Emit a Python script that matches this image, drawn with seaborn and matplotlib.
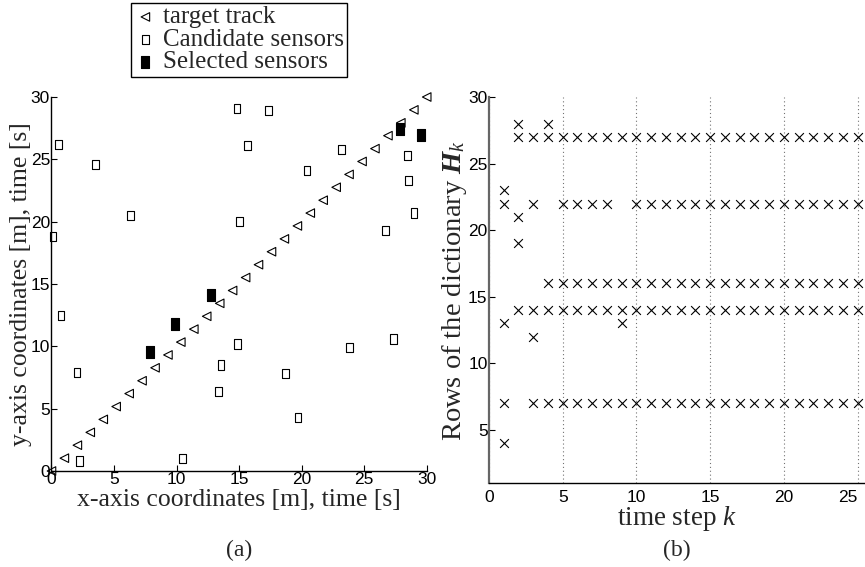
import numpy as np
import pandas as pd
import matplotlib
matplotlib.use("Agg")
import matplotlib.pyplot as plt
import seaborn as sns
from matplotlib import font_manager

# ---------------- data ----------------
# (a) target track: 30 equally spaced points along the diagonal
track_x = [0.0, 1.03, 2.07, 3.10, 4.14, 5.17, 6.21, 7.24, 8.28, 9.31,
           10.34, 11.38, 12.41, 13.45, 14.48, 15.52, 16.55, 17.59, 18.62, 19.66,
           20.69, 21.72, 22.76, 23.79, 24.83, 25.86, 26.90, 27.93, 28.97, 30.0]
track_y = list(track_x)

cand_x = [0.58, 3.51, 6.31, 0.13, 14.83, 17.36, 15.68, 15.04, 20.42, 23.16,
          28.49, 28.54, 28.99, 26.73, 0.77, 2.05, 2.26, 10.49, 14.88, 13.55,
          13.34, 18.69, 19.70, 23.80, 27.34]
cand_y = [26.2, 24.6, 20.5, 18.8, 29.1, 28.9, 26.1, 20.0, 24.1, 25.8,
          25.3, 23.3, 20.7, 19.3, 12.5, 7.9, 0.8, 1.0, 10.2, 8.5,
          6.4, 7.8, 4.3, 9.9, 10.6]

sel_x = [27.88, 29.55, 7.85, 9.88, 12.75]
sel_y = [27.45, 26.95, 9.55, 11.80, 14.15]

# (b) selected rows of the dictionary H_k per time step k
steps = list(range(1, 26))
rows_per_step = [
    [4, 7, 13, 22, 23],
    [14, 19, 21, 27, 28],
    [7, 12, 14, 22, 27],
    [7, 14, 16, 27, 28],
    [7, 14, 16, 22, 27],
    [7, 14, 16, 22, 27],
    [7, 14, 16, 22, 27],
    [7, 14, 16, 22, 27],
    [7, 13, 14, 16, 27],
] + [[7, 14, 16, 22, 27] for _ in range(16)]

left_ticks = [0, 5, 10, 15, 20, 25, 30]
right_xticks = [0, 5, 10, 15, 20, 25]
right_yticks = [5, 10, 15, 20, 25, 30]

# ---------------- style ----------------
sns.set_theme(style="white")
installed = {f.name for f in font_manager.fontManager.ttflist}
serif = "Liberation Serif" if "Liberation Serif" in installed else "DejaVu Serif"
tickfont = ["Liberation Sans Narrow", "Liberation Sans", "DejaVu Sans"]
tickfont = [f for f in tickfont if f in installed] or ["DejaVu Sans"]

plt.rcParams["font.family"] = [serif, "DejaVu Serif"]
plt.rcParams["mathtext.fontset"] = "custom"
plt.rcParams["mathtext.rm"] = serif
plt.rcParams["mathtext.it"] = serif + ":italic"
plt.rcParams["mathtext.bf"] = serif + ":italic:bold"

LABEL_FS = 18.5
LEG_FS = 18
TICK_FS = 12.5

fig = plt.figure(figsize=(8.65, 5.67), dpi=100)
axL = fig.add_axes([0.0595, 0.1693, 0.4338, 0.6596])
axR = fig.add_axes([0.5653, 0.1481, 0.4347, 0.6808])

# rectangle markers (slightly taller than wide)
rect = [(-0.36, -0.5), (0.36, -0.5), (0.36, 0.5), (-0.36, 0.5), (-0.36, -0.5)]

# ---------------- (a) ----------------
df_track = pd.DataFrame({"x": track_x, "y": track_y})
df_cand = pd.DataFrame({"x": cand_x, "y": cand_y})
df_sel = pd.DataFrame({"x": sel_x, "y": sel_y})

sns.scatterplot(data=df_track, x="x", y="y", ax=axL, marker="<", s=38,
                facecolor="none", edgecolor="black", linewidth=0.8,
                label="target track", clip_on=False, zorder=3)
sns.scatterplot(data=df_cand, x="x", y="y", ax=axL, marker=rect, s=45,
                facecolor="none", edgecolor="black", linewidth=0.8,
                label="Candidate sensors", clip_on=False, zorder=3)
sns.scatterplot(data=df_sel, x="x", y="y", ax=axL, marker=rect, s=80,
                facecolor="black", edgecolor="black", linewidth=0.8,
                label="Selected sensors", clip_on=False, zorder=4)

axL.set_xlim(0, 30)
axL.set_ylim(0, 30)
axL.set_xticks(left_ticks)
axL.set_yticks(left_ticks)
axL.set_xlabel("x-axis coordinates [m], time [s]", fontsize=LABEL_FS, labelpad=1)
axL.set_ylabel("y-axis coordinates [m], time [s]", fontsize=LABEL_FS, labelpad=-1)
for s in ["top", "right"]:
    axL.spines[s].set_visible(False)
for s in ["left", "bottom"]:
    axL.spines[s].set_color("black")
    axL.spines[s].set_linewidth(1.0)
axL.tick_params(direction="in", length=4, width=0.8, colors="black",
                labelsize=TICK_FS, pad=1, left=True, bottom=True)
for lab in axL.get_xticklabels() + axL.get_yticklabels():
    lab.set_family(tickfont)

leg = axL.legend(loc="upper center", bbox_to_anchor=(239 / 865, 1 - 3 / 567),
                 bbox_transform=fig.transFigure, frameon=True, fancybox=False,
                 framealpha=1, edgecolor="black", fontsize=LEG_FS,
                 handletextpad=0.25, handlelength=0.9, borderpad=0.12,
                 labelspacing=0.0, borderaxespad=0)
leg.get_frame().set_linewidth(1.0)

# ---------------- (b) ----------------
long_k, long_r = [], []
for k, rows in zip(steps, rows_per_step):
    for r in rows:
        long_k.append(k)
        long_r.append(r)
df_rows = pd.DataFrame({"k": long_k, "row": long_r})

sns.scatterplot(data=df_rows, x="k", y="row", ax=axR, marker="x", s=40,
                color="black", linewidth=0.8, clip_on=False, zorder=3)

axR.set_xlim(0, 25.5)
axR.set_ylim(1, 30)
axR.set_xticks(right_xticks)
axR.set_yticks(right_yticks)
axR.xaxis.grid(True, linestyle=(0, (1, 2.5)), color="0.45", linewidth=0.8)
axR.yaxis.grid(False)
axR.set_xlabel("time step $k$", fontsize=LABEL_FS + 1, labelpad=-1)
axR.set_ylabel(r"Rows of the dictionary $\mathbf{H}_k$", fontsize=20.5, labelpad=-1)
for s in ["top", "right"]:
    axR.spines[s].set_visible(False)
axR.spines["left"].set_color("0.4")
axR.spines["left"].set_linewidth(1.6)
axR.spines["bottom"].set_color("black")
axR.spines["bottom"].set_linewidth(1.0)
axR.tick_params(axis="y", direction="in", length=4, width=0.8, colors="black",
                labelsize=TICK_FS, pad=1, left=True)
axR.tick_params(axis="x", length=0, colors="black", labelsize=TICK_FS, pad=5)
for lab in axR.get_xticklabels() + axR.get_yticklabels():
    lab.set_family(tickfont)
# keep the last tick label inside the figure
axR.get_xticklabels()[-1].set_horizontalalignment("right")

fig.text(239 / 865, 1 - 550 / 567, "(a)", ha="center", va="center", fontsize=17)
fig.text(677 / 865, 1 - 550 / 567, "(b)", ha="center", va="center", fontsize=17)

fig.savefig("out.png", dpi=100)
